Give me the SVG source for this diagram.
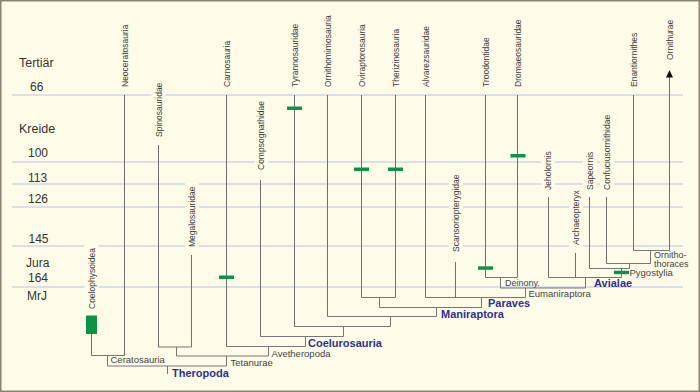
<svg xmlns="http://www.w3.org/2000/svg" width="700" height="392" viewBox="0 0 700 392">
<defs>
<style>
.tl{stroke:#dcdfe7;stroke-width:2;fill:none}
.ln{stroke:#6f6f6f;stroke-width:1;fill:none}
.br{stroke:#777;stroke-width:1;fill:none}
.tx{font-family:"Liberation Sans",Arial,sans-serif;font-size:8.5px;fill:#3d3d3d}
.ax{font-family:"Liberation Sans",Arial,sans-serif;font-size:12px;fill:#333}
.nl{font-family:"Liberation Sans",Arial,sans-serif;font-size:9.5px;fill:#444}
.bl{font-family:"Liberation Sans",Arial,sans-serif;font-size:11px;font-weight:bold;fill:#2e3192}
.gm{fill:#0b9446}
</style>
<marker id="arr" markerWidth="8" markerHeight="7" refX="0.5" refY="3.5" orient="auto" markerUnits="userSpaceOnUse"><path d="M0,0 L7.5,3.5 L0,7 Z" fill="#111"/></marker>
</defs>
<rect x="0.75" y="0.75" width="698.5" height="390.5" fill="#fefce8" stroke="#8c8272" stroke-width="1.5"/>

<g id="timescale">
<path class="tl" d="M12 95 H151.5 M165.5 95 H683"/>
<path class="tl" d="M12 162 H254.5 M268.5 162 H541 M555 162 H583 M597 162 H600 M614 162 H683"/>
<path class="tl" d="M12 184 H185 M199 184 H449 M463 184 H541 M555 184 H583 M597 184 H600 M614 184 H683"/>
<path class="tl" d="M12 207 H185 M199 207 H449 M463 207 H569 M583 207 H683"/>
<path class="tl" d="M12 246 H84.5 M98.5 246 H185 M199 246 H449 M463 246 H569 M583 246 H683"/>
<path class="tl" d="M12 287 H84.5 M98.5 287 H683"/>
<text class="ax" x="19" y="67" style="font-size:12.5px">Tertiär</text>
<text class="ax" x="30" y="91">66</text>
<text class="ax" x="19" y="133" style="font-size:12.5px">Kreide</text>
<text class="ax" x="28" y="157">100</text>
<text class="ax" x="28" y="181.5">113</text>
<text class="ax" x="28" y="203">126</text>
<text class="ax" x="28.5" y="243">145</text>
<text class="ax" x="26" y="267">Jura</text>
<text class="ax" x="28" y="282">164</text>
<text class="ax" x="27" y="300">MrJ</text>
</g>

<g id="connectors">
<path class="br" d="M91.5 355.5 H124.5 M107.5 355.5 V366"/>
<path class="br" d="M158.5 347 H191.5 M176.5 347 V356"/>
<path class="br" d="M226.5 346.5 H305.5 M268.5 346.5 V356"/>
<path class="br" d="M176.5 356 H268.5 M226.5 356 V366"/>
<path class="br" d="M107.5 366 H226.5 M167.5 366 V374"/>
<path class="br" d="M260.5 336.5 H343.5 M305.5 336.5 V346.5"/>
<path class="br" d="M294.5 326.5 H390.5 M343.5 326.5 V336.5"/>
<path class="br" d="M327.5 316.5 H436.5 M390.5 316.5 V326.5"/>
<path class="br" d="M379.5 307.5 H481.5 M436.5 307.5 V316.5"/>
<path class="br" d="M361.5 297.5 H395.5 M379.5 297.5 V307.5"/>
<path class="br" d="M425.5 297.5 H525.5 M481.5 297.5 V307.5"/>
<path class="br" d="M500.5 288 H585.5 M525.5 288 V297.5"/>
<path class="br" d="M485.5 277.5 H517.5 M500.5 277.5 V288"/>
<path class="br" d="M548.5 277.5 H621.5 M585.5 277.5 V288"/>
<path class="br" d="M589.5 268.5 H629.5 M621.5 268.5 V277.5"/>
<path class="br" d="M606.5 263.5 H650.5 M629.5 263.5 V268.5"/>
<path class="br" d="M633.5 250.5 H669.5 M650.5 250.5 V263.5"/>
</g>

<g id="clade-labels">
<text class="nl" x="110.5" y="363">Ceratosauria</text>
<text class="nl" x="230.5" y="366">Tetanurae</text>
<text class="nl" x="271.5" y="357">Avetheropoda</text>
<text class="bl" x="172" y="377">Theropoda</text>
<text class="bl" x="308" y="347">Coelurosauria</text>
<text class="bl" x="441" y="318">Maniraptora</text>
<text class="bl" x="488" y="307">Paraves</text>
<text class="nl" x="528.5" y="297">Eumaniraptora</text>
<text class="nl" x="505" y="285.5" style="font-size:9px">Deinony.</text>
<text class="bl" x="594" y="287">Avialae</text>
<text class="nl" x="629.5" y="276">Pygostylia</text>
<text class="nl" x="654" y="258" style="font-size:9px">Ornitho-</text>
<text class="nl" x="654" y="266.5" style="font-size:9px">thoraces</text>
</g>

<g id="Neoceratosauria"><path class="ln" d="M124.5 95 V355.5"/><text class="tx" transform="translate(127.7,87) rotate(-90)">Neoceratosauria</text></g>
<g id="Spinosauridae"><path class="ln" d="M158.5 145 V347"/><text class="tx" transform="translate(161.7,137) rotate(-90)">Spinosauridae</text></g>
<g id="Megalosauridae"><path class="ln" d="M191.5 255 V347"/><text class="tx" transform="translate(194.7,247) rotate(-90)">Megalosauridae</text></g>
<g id="Carnosauria"><path class="ln" d="M226.5 95 V346.5"/><rect class="gm" x="219" y="275.5" width="15" height="3.5"/><text class="tx" transform="translate(229.7,87) rotate(-90)">Carnosauria</text></g>
<g id="Coelophysoidea"><path class="ln" d="M91.5 334 V355.5"/><rect class="gm" x="86" y="315.5" width="11" height="18.5"/><text class="tx" transform="translate(94.7,309) rotate(-90)">Coelophysoidea</text></g>
<g id="Compsognathidae"><path class="ln" d="M260.5 180 V336.5"/><text class="tx" transform="translate(264.2,170) rotate(-90)">Compsognathidae</text></g>
<g id="Tyrannosauridae"><path class="ln" d="M294.5 95 V326.5"/><rect class="gm" x="287" y="106.5" width="15" height="3.5"/><text class="tx" transform="translate(297.7,87) rotate(-90)">Tyrannosauridae</text></g>
<g id="Ornithomimosauria"><path class="ln" d="M327.5 95 V316.5"/><text class="tx" transform="translate(330.7,87) rotate(-90)">Ornithomimosauria</text></g>
<g id="Oviraptorosauria"><path class="ln" d="M361.5 95 V297.5"/><rect class="gm" x="354" y="167.5" width="15" height="3.5"/><text class="tx" transform="translate(364.7,87) rotate(-90)">Oviraptorosauria</text></g>
<g id="Therizinosauria"><path class="ln" d="M395.5 95 V297.5"/><rect class="gm" x="388" y="167.5" width="15" height="3.5"/><text class="tx" transform="translate(398.7,87) rotate(-90)">Therizinosauria</text></g>
<g id="Alvarezsauridae"><path class="ln" d="M425.5 95 V297.5"/><text class="tx" transform="translate(428.7,87) rotate(-90)">Alvarezsauridae</text></g>
<g id="Scansoriopterygidae"><path class="ln" d="M455.5 262 V297.5"/><text class="tx" transform="translate(459,252) rotate(-90)">Scansoriopterygidae</text></g>
<g id="Troodontidae"><path class="ln" d="M485.5 95 V277.5"/><rect class="gm" x="478" y="266.3" width="15" height="3.5"/><text class="tx" transform="translate(488.7,87) rotate(-90)">Troodontidae</text></g>
<g id="Dromaeosauridae"><path class="ln" d="M517.5 95 V277.5"/><rect class="gm" x="510.5" y="154" width="15" height="3.5"/><text class="tx" transform="translate(520.7,87) rotate(-90)">Dromaeosauridae</text></g>
<g id="Jeholornis"><path class="ln" d="M548.5 197 V277.5"/><text class="tx" transform="translate(551.2,190) rotate(-90)">Jeholornis</text></g>
<g id="Archaeopteryx"><path class="ln" d="M575.5 253 V277.5"/><text class="tx" transform="translate(578.5,245) rotate(-90)">Archaeopteryx</text></g>
<g id="Sapeornis"><path class="ln" d="M589.5 197 V268.5"/><text class="tx" transform="translate(593,190) rotate(-90)">Sapeornis</text></g>
<g id="Confuciusornithidae"><path class="ln" d="M606.5 197 V263.5"/><text class="tx" transform="translate(609.7,190) rotate(-90)">Confuciusornithidae</text></g>
<g id="Pygostylia-marker"><rect class="gm" x="614" y="270.7" width="15" height="3.5"/></g>
<g id="Enantiornithes"><path class="ln" d="M633.5 95 V250.5"/><text class="tx" transform="translate(636.7,87) rotate(-90)">Enantiornithes</text></g>
<g id="Ornithurae"><path class="ln" d="M669.5 250.5 V77" marker-end="url(#arr)"/><text class="tx" transform="translate(672.5,60) rotate(-90)">Ornithurae</text></g>
</svg>
